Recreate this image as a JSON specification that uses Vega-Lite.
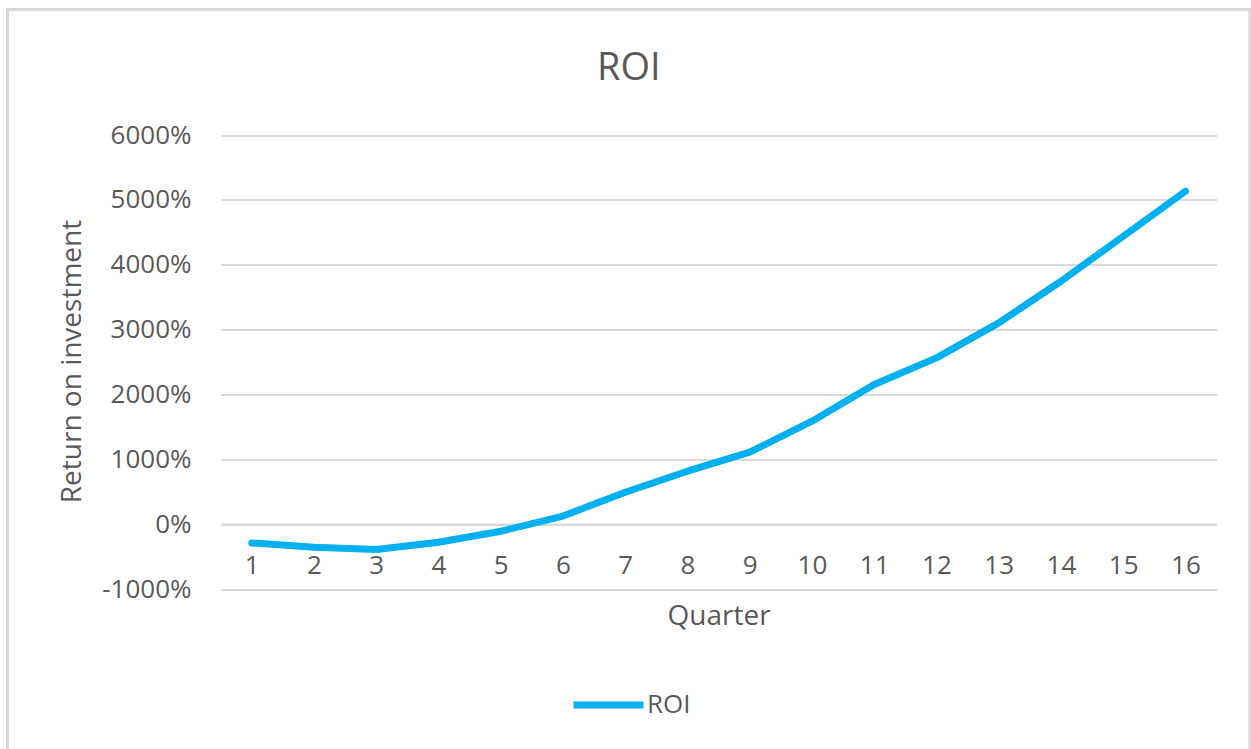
{
  "$schema": "https://vega.github.io/schema/vega-lite/v6.json",
  "width": 1242.5,
  "height": 742.5,
  "autosize": {"type": "none"},
  "padding": {"left": 7.5, "top": 9.5, "right": 1, "bottom": -3},
  "background": "white",
  "title": {
    "text": "ROI",
    "anchor": "middle",
    "frame": "group",
    "font": "Open Sans",
    "fontSize": 38,
    "fontWeight": "normal",
    "color": "#595959",
    "baseline": "alphabetic",
    "offset": -108
  },
  "config": {
    "font": "Open Sans",
    "view": {"stroke": "#D9D9D9", "strokeWidth": 3},
    "locale": {
      "number": {"decimal": ".", "thousands": ",", "grouping": [3], "currency": ["$", ""], "minus": "-"}
    }
  },
  "data": {
    "values": [
      {"quarter": 1, "roi": -2.9},
      {"quarter": 2, "roi": -3.55},
      {"quarter": 3, "roi": -3.9},
      {"quarter": 4, "roi": -2.8},
      {"quarter": 5, "roi": -1.1},
      {"quarter": 6, "roi": 1.25},
      {"quarter": 7, "roi": 4.92},
      {"quarter": 8, "roi": 8.16},
      {"quarter": 9, "roi": 11.09},
      {"quarter": 10, "roi": 15.87},
      {"quarter": 11, "roi": 21.52},
      {"quarter": 12, "roi": 25.64},
      {"quarter": 13, "roi": 31.04},
      {"quarter": 14, "roi": 37.45},
      {"quarter": 15, "roi": 44.39},
      {"quarter": 16, "roi": 51.33}
    ]
  },
  "mark": {
    "type": "line",
    "strokeWidth": 7,
    "strokeCap": "round",
    "strokeJoin": "round"
  },
  "encoding": {
    "x": {
      "field": "quarter",
      "type": "quantitative",
      "title": "Quarter",
      "scale": {"domain": [0.5, 16.5], "range": [213.1, 1209.1], "nice": false, "zero": false},
      "axis": {
        "values": [1, 2, 3, 4, 5, 6, 7, 8, 9, 10, 11, 12, 13, 14, 15, 16],
        "format": "d",
        "grid": false,
        "ticks": false,
        "tickSize": 0,
        "domain": true,
        "domainColor": "#D9D9D9",
        "domainWidth": 2,
        "offset": -227.9,
        "labelFontSize": 26,
        "labelColor": "#595959",
        "labelPadding": 49,
        "labelBaseline": "alphabetic",
        "labelFlush": false,
        "labelOverlap": false,
        "titleFontSize": 28,
        "titleColor": "#595959",
        "titleFontWeight": "normal",
        "titleY": 99.9,
        "titleBaseline": "alphabetic"
      }
    },
    "y": {
      "field": "roi",
      "type": "quantitative",
      "title": "Return on investment",
      "scale": {"domain": [-10, 60], "range": [579.5, 125.5], "nice": false, "zero": false},
      "axis": {
        "values": [-10, 0, 10, 20, 30, 40, 50, 60],
        "format": ".0%",
        "grid": true,
        "gridColor": "#D9D9D9",
        "gridWidth": 2,
        "domain": false,
        "ticks": false,
        "tickSize": 0,
        "offset": -191.5,
        "labelPadding": 8,
        "labelFontSize": 26,
        "labelColor": "#595959",
        "labelBaseline": "middle",
        "titleFontSize": 28,
        "titleColor": "#595959",
        "titleFontWeight": "normal",
        "titleX": -119,
        "titleY": 351.5,
        "titleAngle": 270,
        "titleAlign": "center",
        "titleBaseline": "alphabetic"
      }
    },
    "color": {
      "datum": "ROI",
      "type": "nominal",
      "scale": {"range": ["#00B0F0"]},
      "legend": {
        "title": null,
        "orient": "none",
        "legendX": 562.5,
        "legendY": 657,
        "symbolType": "stroke",
        "symbolSize": 4900,
        "symbolStrokeWidth": 7,
        "labelFontSize": 26,
        "labelColor": "#595959",
        "labelOffset": 0
      }
    }
  }
}
